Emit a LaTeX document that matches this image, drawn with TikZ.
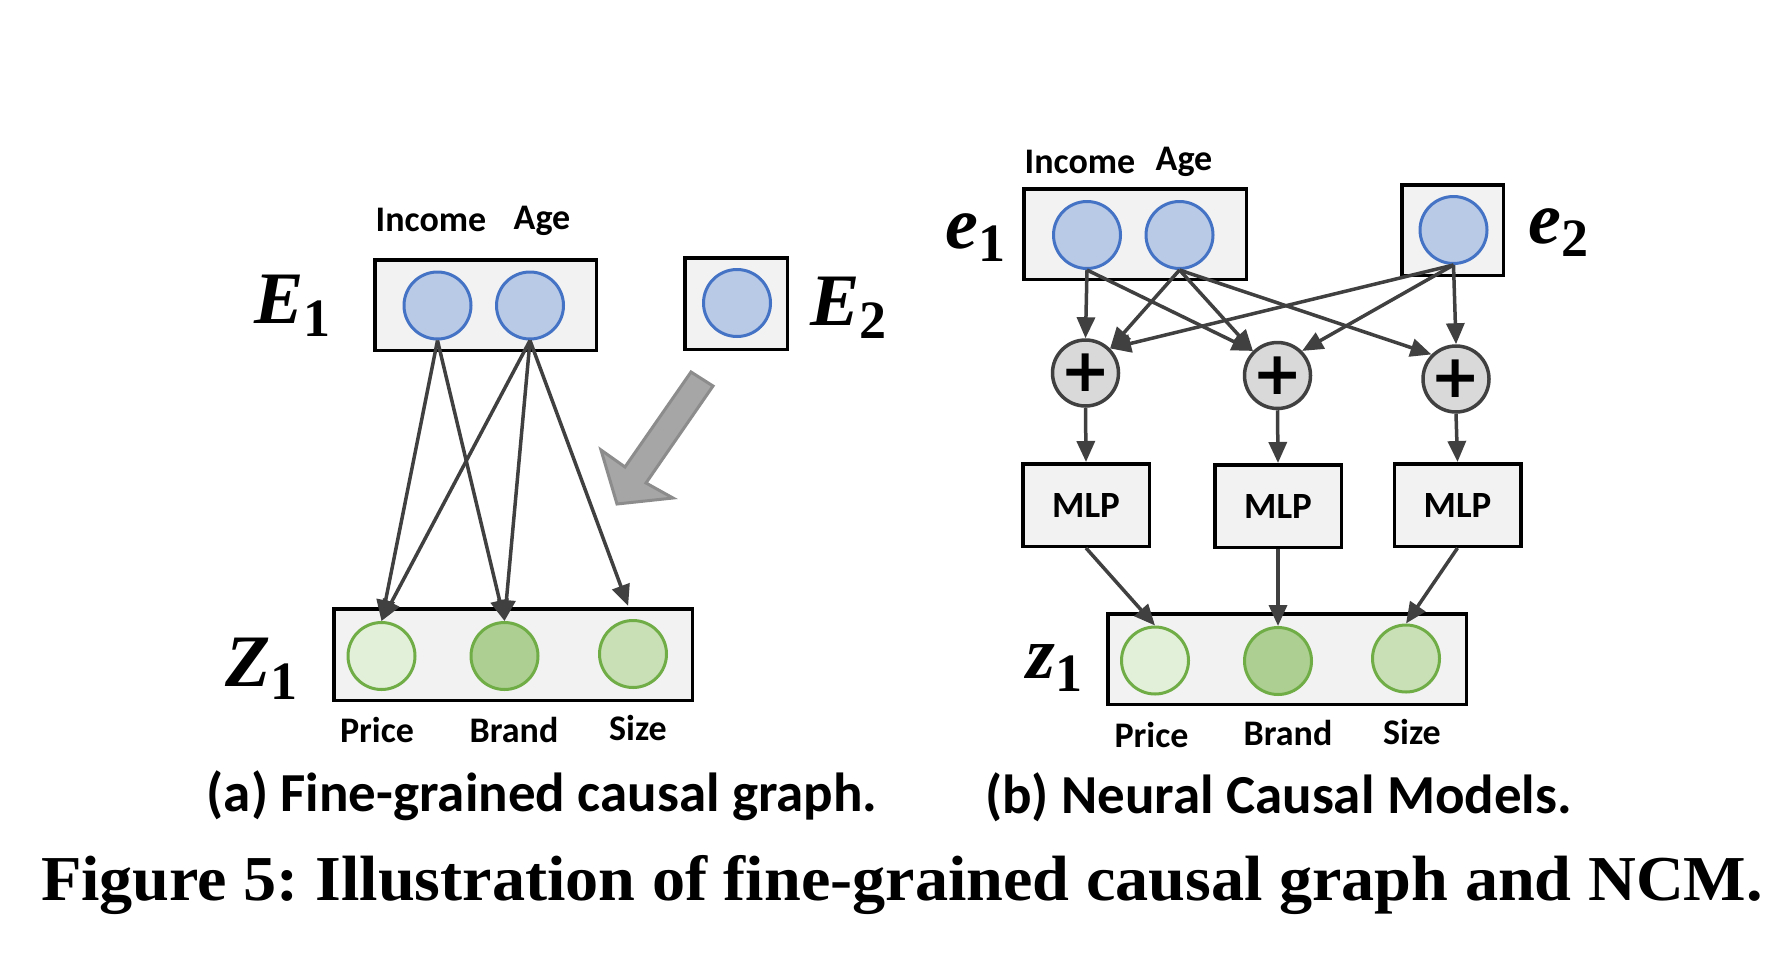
\documentclass[tikz,border=0pt]{standalone}
\usepackage{fontspec}
\usepackage{graphicx}
\newfontfamily\lblfont{Carlito}
\newfontfamily\serfont{Liberation Serif}
\newfontfamily\plusfont{DejaVu Sans}
\usetikzlibrary{arrows.meta}
\definecolor{boxfill}{HTML}{F2F2F2}
\definecolor{bluefill}{HTML}{B8CAE6}
\definecolor{blueline}{HTML}{4472C4}
\definecolor{greenline}{HTML}{70AD47}
\definecolor{gA}{HTML}{E2F0D9}
\definecolor{gB}{HTML}{ADD092}
\definecolor{gC}{HTML}{C9E0B7}
\definecolor{arrowc}{HTML}{404040}
\definecolor{plusfill}{HTML}{D9D9D9}
\definecolor{bigfill}{HTML}{A6A6A6}
\definecolor{bigline}{HTML}{8C8C8C}
\newcommand\mysub[1]{\raisebox{-13pt}{\upshape\fontsize{54}{54}\selectfont #1}}
\frenchspacing
\begin{document}
\begin{tikzpicture}[x=1pt,y=-1pt,
  box/.style={draw=black,line width=3.5pt,fill=boxfill,inner sep=0pt},
  bcirc/.style={circle,draw=blueline,fill=bluefill,line width=3pt,minimum size=67pt,inner sep=0pt},
  gcirc/.style={circle,draw=greenline,line width=3pt,minimum size=67pt,inner sep=0pt},
  pcirc/.style={circle,draw=arrowc,fill=plusfill,line width=3.5pt,minimum size=66pt,inner sep=0pt,font=\plusfont\bfseries\fontsize{60}{60}\selectfont},
  lbl/.style={font=\lblfont\bfseries\fontsize{36}{36}\selectfont,inner sep=0pt,anchor=base},
  captxt/.style={font=\lblfont\bfseries\fontsize{55}{55}\selectfont,inner sep=0pt,anchor=base},
  mlbl/.style={font=\serfont\bfseries\itshape\fontsize{74}{74}\selectfont,inner sep=0pt,anchor=base west},
  arr/.style={draw=arrowc,line width=3.5pt,-{Triangle[length=21pt,width=18pt]}},
  mlp/.style={box,minimum width=126.5pt,minimum height=82.5pt,font=\lblfont\bfseries\fontsize{37}{37}\selectfont},
]
\useasboundingbox (0,0) rectangle (1790,964);
\fill[white] (0,0) rectangle (1790,964);

% ---------- left panel ----------
\node[box,minimum width=221.5pt,minimum height=90.5pt] (E1box) at (485.5,305) {};
\node[box,minimum width=102.5pt,minimum height=91.5pt] (E2box) at (736,303.5) {};
\node[box,minimum width=358.5pt,minimum height=91.5pt] (Z1box) at (513,654.5) {};
\node[bcirc] (inc) at (437.5,305.5) {};
\node[bcirc] (age) at (530,305.5) {};
\node[bcirc] (e2l) at (737,303) {};
\node[gcirc,fill=gA] (price1) at (381.5,656) {};
\node[gcirc,fill=gB] (brand1) at (504.5,656) {};
\node[gcirc,fill=gC] (size1) at (633,654) {};

\node[lbl] (incl) at (431,231) {Income};
\node[lbl] (agel) at (542,229) {Age};
\node[lbl] (pricel1) at (377,742) {Price};
\node[lbl] (brandl1) at (514,742) {Brand};
\node[lbl] (sizel1) at (638,740) {Size};

\node[mlbl] (E1lbl) at (254,323) {E\mysub{1}};
\node[mlbl] (E2lbl) at (810,325) {E\mysub{2}};
\node[mlbl] (Z1lbl) at (225,686) {Z\mysub{1}};

\draw[arr] (inc.south) -- (price1.north);
\draw[arr] (inc.south) -- (brand1.north);
\draw[arr] (age.south) -- (price1.north);
\draw[arr] (age.south) -- (brand1.north);
\draw[arr,shorten >=14pt] (age.south) -- (size1.north);

\draw[fill=bigfill,draw=bigline,line width=3pt,line join=miter]
  (691,372) -- (713,386) -- (646,483) -- (673,498) -- (617,504) -- (601,450) -- (625,467) -- cycle;

\node[captxt] (capa) at (542,811) {(a) Fine-grained causal graph.};

% ---------- right panel ----------
\node[box,minimum width=222.5pt,minimum height=90.5pt] (e1box) at (1135,234) {};
\node[box,minimum width=101.5pt,minimum height=90.5pt] (e2box) at (1452.5,230) {};
\node[box,minimum width=358.5pt,minimum height=90.5pt] (z1box) at (1287,659) {};
\node[bcirc] (inc2) at (1087,235) {};
\node[bcirc] (age2) at (1179.5,235) {};
\node[bcirc] (e2c) at (1453.5,230) {};
\node[pcirc] (p1) at (1085.5,373) {+};
\node[pcirc] (p2) at (1277.5,375.5) {+};
\node[pcirc] (p3) at (1456,379) {+};
\node[mlp] (m1) at (1086,505) {MLP};
\node[mlp] (m2) at (1278,506) {MLP};
\node[mlp] (m3) at (1457.5,505) {MLP};
\node[gcirc,fill=gA] (price2) at (1155,660.5) {};
\node[gcirc,fill=gB] (brand2) at (1278,661) {};
\node[gcirc,fill=gC] (size2) at (1406,658.5) {};

\node[lbl] (incl2) at (1080,173) {Income};
\node[lbl] (agel2) at (1184,170) {Age};
\node[lbl] (pricel2) at (1151.5,747) {Price};
\node[lbl] (brandl2) at (1288,745) {Brand};
\node[lbl] (sizel2) at (1412,744) {Size};

\node[mlbl] (e1lbl) at (945,248) {e\mysub{1}};
\node[mlbl] (e2lbl) at (1528,243) {e\mysub{2}};
\node[mlbl] (z1lbl) at (1026,678) {z\mysub{1}};

\draw[arr] (inc2.south) -- (p1.north);
\draw[arr] (inc2.south) -- (p2.north west);
\draw[arr] (age2.south) -- (p1.north east);
\draw[arr] (age2.south) -- (p2.north west);
\draw[arr] (age2.south) -- (p3.north west);
\draw[arr] (e2c.south) -- (p1.north east);
\draw[arr] (e2c.south) -- (p2.north east);
\draw[arr] (e2c.south) -- (p3.north);
\draw[arr] (p1.south) -- (m1.north);
\draw[arr] (p2.south) -- (m2.north);
\draw[arr] (p3.south) -- (m3.north);
\draw[arr] (m1.south) -- (price2.north);
\draw[arr] (m2.south) -- (brand2.north);
\draw[arr] (m3.south) -- (size2.north);

\node[captxt] (capb) at (1278.5,813) {(b) Neural Causal Models.};

% ---------- figure caption ----------
\node[font=\serfont\bfseries\fontsize{64}{64}\selectfont,inner sep=0pt,anchor=base] (figcap) at (902,900)
  {\resizebox{1722pt}{\height}{Figure 5: Illustration of fine-grained causal graph and NCM.}};
\end{tikzpicture}
\end{document}
